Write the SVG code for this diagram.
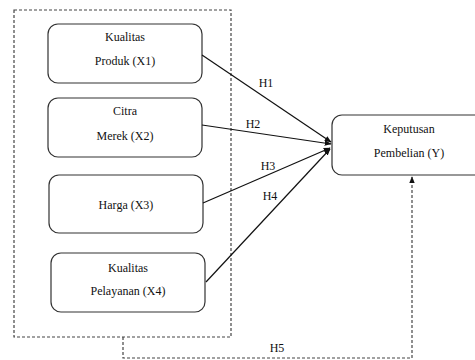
<svg xmlns="http://www.w3.org/2000/svg" width="475" height="360" viewBox="0 0 475 360" font-family="'Liberation Serif', 'DejaVu Serif', serif">
<style>
.box{fill:#fff;stroke:#333;stroke-width:1.2}
.t{font-family:'Liberation Serif','DejaVu Serif',serif;font-size:12px;fill:#111;text-anchor:middle}
.ln{stroke:#111;stroke-width:1.2;fill:none}
.dash{stroke:#444;stroke-width:1.2;fill:none;stroke-dasharray:3 2}
</style>
<defs>
<marker id="ah" viewBox="0 0 10 10" refX="9" refY="5" markerWidth="7" markerHeight="7" orient="auto" markerUnits="userSpaceOnUse">
<path d="M0,1 L10,5 L0,9 z" fill="#111"/>
</marker>
</defs>
<rect id="group" x="14" y="10" width="217" height="327" class="dash"/>
<g id="x1"><rect class="box" x="48" y="24" width="154" height="59" rx="10"/><text class="t" x="125" y="41">Kualitas</text><text class="t" x="125" y="65">Produk (X1)</text></g>
<g id="x2"><rect class="box" x="48" y="98" width="154" height="59" rx="10"/><text class="t" x="125" y="115">Citra</text><text class="t" x="125" y="140">Merek (X2)</text></g>
<g id="x3"><rect class="box" x="49" y="175" width="154" height="58" rx="10"/><text class="t" x="126" y="209">Harga (X3)</text></g>
<g id="x4"><rect class="box" x="51" y="253" width="154" height="59" rx="10"/><text class="t" x="128" y="272">Kualitas</text><text class="t" x="128" y="295">Pelayanan (X4)</text></g>
<g id="y"><rect class="box" x="332" y="115" width="156" height="60" rx="10"/><text class="t" x="409" y="133">Keputusan</text><text class="t" x="409" y="157">Pembelian (Y)</text></g>
<g id="connectors">
<line class="ln" x1="202" y1="55" x2="331" y2="142" marker-end="url(#ah)"/>
<line class="ln" x1="202" y1="125" x2="331" y2="144" marker-end="url(#ah)"/>
<line class="ln" x1="203" y1="203" x2="330" y2="148" marker-end="url(#ah)"/>
<line class="ln" x1="206" y1="282" x2="330" y2="149" marker-end="url(#ah)"/>
<path class="dash" d="M123,337 V358 H412 V177" marker-end="url(#ah)"/>
<text class="t" x="266" y="87">H1</text>
<text class="t" x="253" y="128">H2</text>
<text class="t" x="268" y="170">H3</text>
<text class="t" x="270" y="200">H4</text>
<text class="t" x="277" y="352">H5</text>
</g>
</svg>
